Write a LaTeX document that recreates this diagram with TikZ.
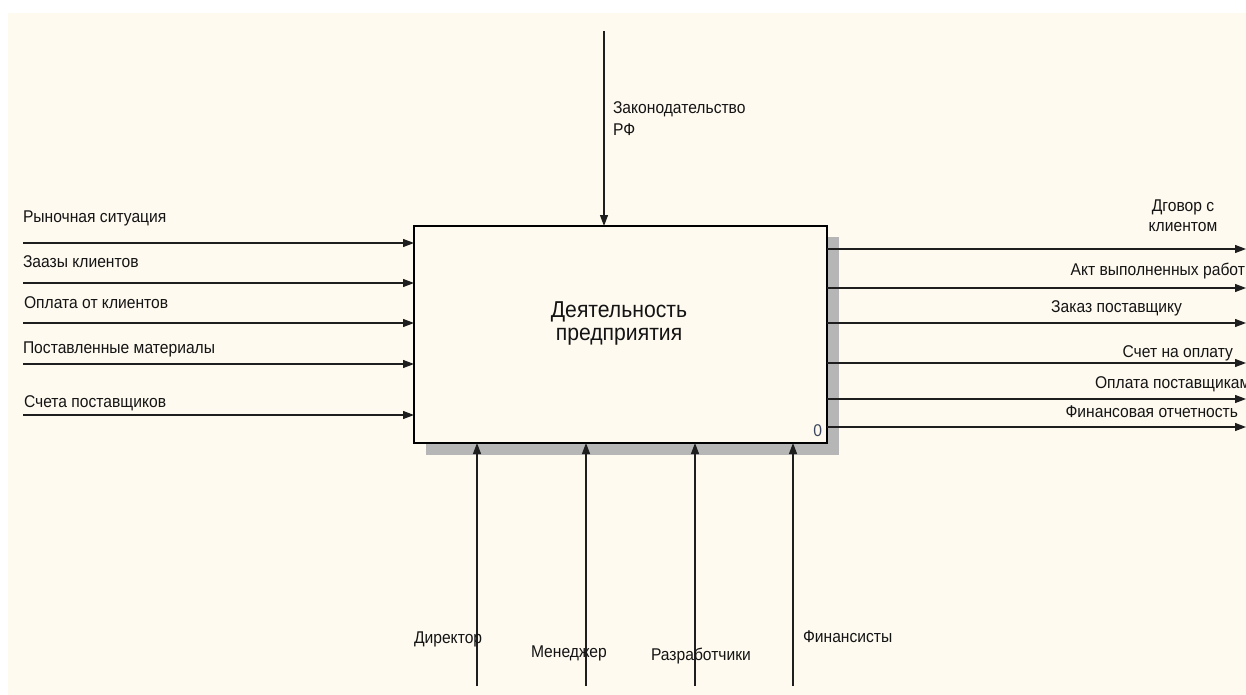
\documentclass[tikz,border=0pt]{standalone}
\usepackage{fontspec}
\setmainfont{Liberation Sans}[FakeStretch=0.92]
\usetikzlibrary{arrows.meta}
\definecolor{bg}{RGB}{254,250,240}
\definecolor{ink}{RGB}{20,20,20}
\definecolor{linec}{RGB}{30,30,30}
\definecolor{shade}{RGB}{182,182,182}
\begin{document}
\begin{tikzpicture}[x=1pt,y=-1pt,
  lbl/.style={inner sep=0pt, outer sep=0pt, font=\fontsize{17}{20}\selectfont, text=ink},
  arr/.style={draw=linec, line width=1.2pt, -{Triangle[length=11pt,width=8pt]}},
  funcbox/.style={draw=black, line width=2pt, fill=bg, minimum width=413pt, minimum height=217pt, inner sep=0pt, outer sep=0pt},
  ttl/.style={inner sep=0pt, align=center, font=\fontsize{23}{23}\selectfont, text=ink},
  shadow/.style={fill=shade, draw=none}
]
\useasboundingbox (0,0) rectangle (1246,695);
\fill[white] (0,0) rectangle (1246,695);
\fill[bg] (8,13) rectangle (1246,695);
% shadow
\path[shadow] (826,237) rectangle (839,455);
\path[shadow] (426,442) rectangle (839,455);
% main box
\node[funcbox] (box) at (620.5,334.5) {};
\node[ttl, anchor=north] (title) at (619,301) {Деятельность\\предприятия};
\node[lbl, anchor=base east, font=\fontsize{17}{20}\selectfont, text={rgb,255:red,60;green,70;blue,95}] (num) at (822,436) {0};

% inputs
\coordinate (i1) at (23,243);
\coordinate (i2) at (23,283);
\coordinate (i3) at (23,323);
\coordinate (i4) at (23,364);
\coordinate (i5) at (23,415);
\draw[arr] (i1) -- (i1 -| box.west);
\draw[arr] (i2) -- (i2 -| box.west);
\draw[arr] (i3) -- (i3 -| box.west);
\draw[arr] (i4) -- (i4 -| box.west);
\draw[arr] (i5) -- (i5 -| box.west);
\node[lbl, anchor=base west] (li1) at (23,222) {Рыночная ситуация};
\node[lbl, anchor=base west] (li2) at (23,267) {Заазы клиентов};
\node[lbl, anchor=base west] (li3) at (24,308) {Оплата от клиентов};
\node[lbl, anchor=base west] (li4) at (23,353) {Поставленные материалы};
\node[lbl, anchor=base west] (li5) at (24,407) {Счета поставщиков};

% outputs
\coordinate (o1) at (1246,249);
\coordinate (o2) at (1246,288);
\coordinate (o3) at (1246,323);
\coordinate (o4) at (1246,363);
\coordinate (o5) at (1246,399);
\coordinate (o6) at (1246,427);
\draw[arr] (o1 -| box.east) -- (o1);
\draw[arr] (o2 -| box.east) -- (o2);
\draw[arr] (o3 -| box.east) -- (o3);
\draw[arr] (o4 -| box.east) -- (o4);
\draw[arr] (o5 -| box.east) -- (o5);
\draw[arr] (o6 -| box.east) -- (o6);
\node[lbl, anchor=north, align=center] (lo1) at (1183,200) {Дговор с\\клиентом};
\node[lbl, anchor=base east] (lo2) at (1245,275) {Акт выполненных работ};
\node[lbl, anchor=base east] (lo3) at (1182,312) {Заказ поставщику};
\node[lbl, anchor=base east] (lo4) at (1233,357) {Счет на оплату};
\node[lbl, anchor=base west] (lo5) at (1095,388) {Оплата поставщикам};
\node[lbl, anchor=base east] (lo6) at (1238,417) {Финансовая отчетность};

% control
\coordinate (c1) at (604,31);
\draw[arr] (c1) -- (c1 |- box.north);
\node[lbl, anchor=north west, align=left, font=\fontsize{17}{22}\selectfont] (lc1) at (613,102) {Законодательство\\РФ};

% mechanisms
\coordinate (m1) at (477,686);
\coordinate (m2) at (586,686);
\coordinate (m3) at (695,686);
\coordinate (m4) at (793,686);
\draw[arr] (m1) -- (m1 |- box.south);
\draw[arr] (m2) -- (m2 |- box.south);
\draw[arr] (m3) -- (m3 |- box.south);
\draw[arr] (m4) -- (m4 |- box.south);
\node[lbl, anchor=base west] (lm1) at (414,643) {Директор};
\node[lbl, anchor=base west] (lm2) at (531,657) {Менеджер};
\node[lbl, anchor=base west] (lm3) at (651,660) {Разработчики};
\node[lbl, anchor=base west] (lm4) at (803,642) {Финансисты};
\end{tikzpicture}
\end{document}
